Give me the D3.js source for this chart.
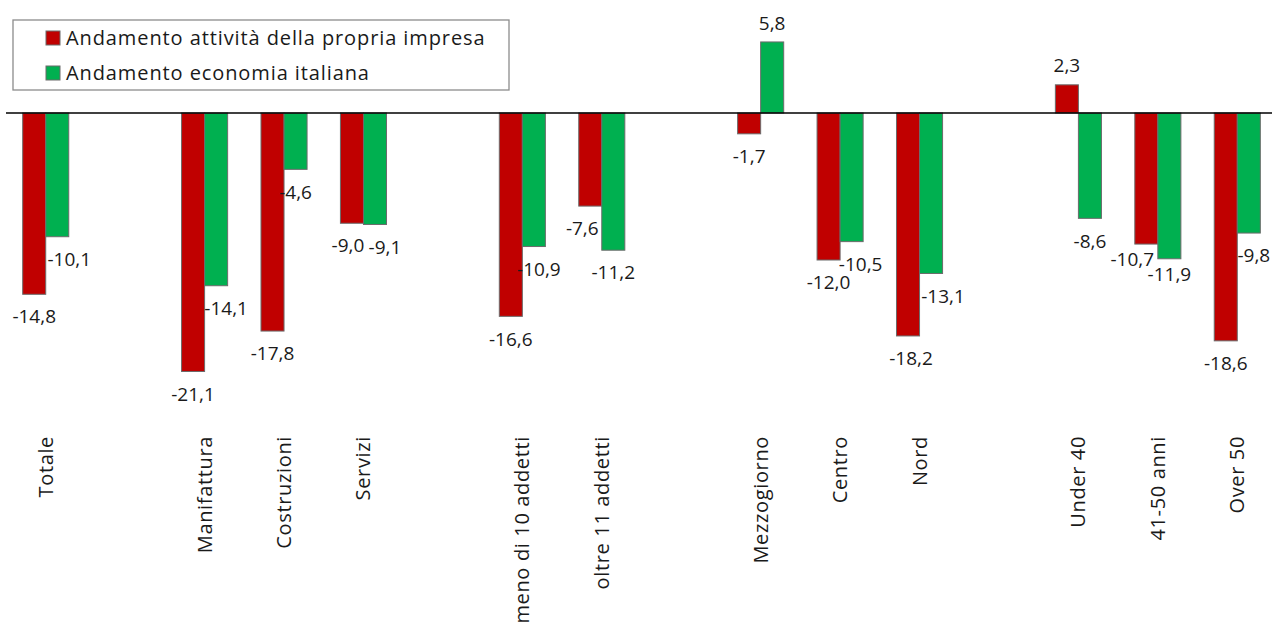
<!DOCTYPE html>
<html>
<head>
<meta charset="utf-8">
<script src="https://cdn.jsdelivr.net/npm/d3@7"></script>
<style>
  html, body { margin: 0; padding: 0; background: #fff; }
  svg { display: block; font-family: "Open Sans", "Noto Sans", sans-serif; }
</style>
</head>
<body>
<svg id="chart" width="1272" height="626"></svg>
<script>
// ---- data ----
const categories = ["Totale", "", "Manifattura", "Costruzioni", "Servizi", "",
  "meno di 10 addetti", "oltre 11 addetti", "", "Mezzogiorno", "Centro", "Nord", "",
  "Under 40", "41-50 anni", "Over 50"];
const seriesNames = ["Andamento attività della propria impresa", "Andamento economia italiana"];
const impresa  = [-14.8, null, -21.1, -17.8, -9.0, null, -16.6, -7.6, null, -1.7, -12.0, -18.2, null, 2.3, -10.7, -18.6];
const economia = [-10.1, null, -14.1, -4.6, -9.1, null, -10.9, -11.2, null, 5.8, -10.5, -13.1, null, -8.6, -11.9, -9.8];
// label nudges (layout only)
const impresaNudgeX  = [0, 0, 0, 0, -4, 0, 0, -8, 0, 0, 0, 3, 0, 0, -14, 0];
const economiaNudgeX = [12, 0, 10, 0, 10, 0, 5, 0, 0, 0, 9, 12, 0, 0, 0, 5];
const nudgeY         = [0, 0, 0, 0, 0, 0, 0, 0, 0, 0, 0, 0, 0, 0, -7, 0];

const colors = ["#C00000", "#00B050"];
const series = [impresa, economia];
const nudges = [impresaNudgeX, economiaNudgeX];

const svg = d3.select("#chart");
const W = 1272, H = 626;

const x0 = d3.scaleBand().domain(d3.range(categories.length)).range([6, 1277])
  .paddingInner(0.42).paddingOuter(0.21);
const x1 = d3.scaleBand().domain([0, 1]).range([0, x0.bandwidth()]);
const y = d3.scaleLinear().domain([10, -25]).range([113 - 122.5, 113 + 306.25]);

const fmt = v => (v < 0 ? "-" : "") + Math.abs(v).toFixed(1).replace(".", ",");

// bars
series.forEach((vals, s) => {
  const g = svg.append("g");
  vals.forEach((v, i) => {
    if (v === null) return;
    const bx = x0(i) + x1(s);
    g.append("rect")
      .attr("x", bx)
      .attr("y", y(Math.max(0, v)))
      .attr("width", x1.bandwidth())
      .attr("height", Math.abs(y(v) - y(0)))
      .attr("fill", colors[s])
      .attr("stroke", "#6b6b6b")
      .attr("stroke-width", 1);
  });
});

// zero line
svg.append("line")
  .attr("x1", 6).attr("x2", W)
  .attr("y1", y(0)).attr("y2", y(0))
  .attr("stroke", "#000").attr("stroke-width", 1.3);

// data labels
series.forEach((vals, s) => {
  vals.forEach((v, i) => {
    if (v === null) return;
    const cx = x0(i) + x1(s) + x1.bandwidth() / 2 + nudges[s][i];
    const off = v < 0 ? 22.5 + nudgeY[i] : -19;
    svg.append("text")
      .attr("x", cx)
      .attr("y", y(v) + off)
      .attr("dy", "0.35em")
      .attr("text-anchor", "middle")
      .attr("font-size", 19)
      .attr("fill", "#1a1a1a")
      .text(fmt(v));
  });
});

// category labels
categories.forEach((c, i) => {
  if (!c) return;
  const cx = x0(i) + x0.bandwidth() / 2;
  svg.append("text")
    .attr("transform", `translate(${cx},436) rotate(-90)`)
    .attr("dy", "0.35em")
    .attr("text-anchor", "end")
    .attr("font-size", 20)
    .attr("letter-spacing", "0.65px")
    .attr("fill", "#1a1a1a")
    .text(c);
});

// legend
const lg = svg.append("g");
lg.append("rect").attr("x", 13).attr("y", 20).attr("width", 496).attr("height", 70)
  .attr("fill", "#fff").attr("stroke", "#8c8c8c").attr("stroke-width", 1.3);
seriesNames.forEach((n, s) => {
  const cy = 38 + s * 35;
  lg.append("rect").attr("x", 46).attr("y", cy - 7).attr("width", 14).attr("height", 14)
    .attr("fill", colors[s]).attr("stroke", "#6b6b6b").attr("stroke-width", 1);
  lg.append("text").attr("x", 66).attr("y", cy).attr("dy", "0.35em")
    .attr("font-size", 20).attr("letter-spacing", "0.9px")
    .attr("fill", "#1a1a1a").text(n);
});
</script>
</body>
</html>
